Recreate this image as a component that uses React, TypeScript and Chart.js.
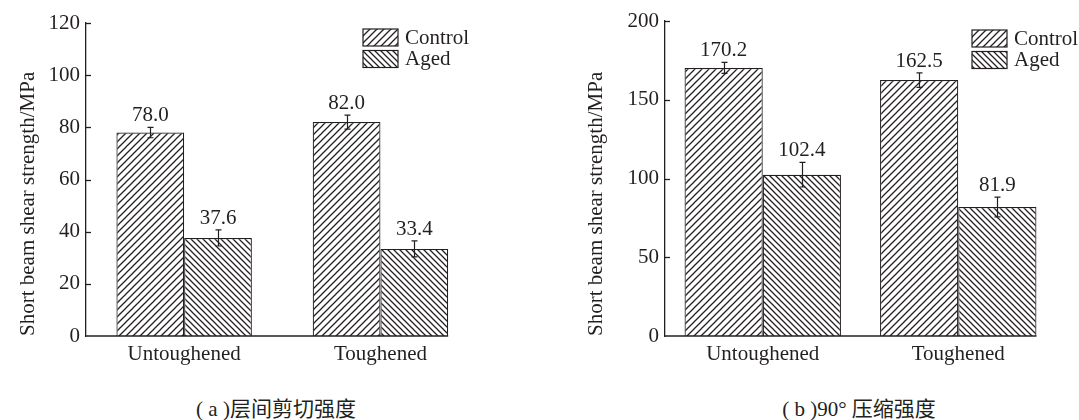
import React, { useEffect, useRef } from "react";
import { Chart, registerables } from "chart.js";

Chart.register(...registerables);

// ---------- data ----------
const categories = ["Untoughened", "Toughened"];
const seriesNames = ["Control", "Aged"];

const shearControl = [78.0, 82.0];
const shearAged = [37.6, 33.4];
const shearControlErr = [2.0, 2.7];
const shearAgedErr = [3.1, 3.1];
const shearTicks = [0, 20, 40, 60, 80, 100, 120];

const compControl = [170.2, 162.5];
const compAged = [102.4, 81.9];
const compControlErr = [3.5, 4.6];
const compAgedErr = [7.8, 6.3];
const compTicks = [0, 50, 100, 150, 200];

const yTitle = "Short beam shear strength/MPa";
const captionA = "( a )层间剪切强度";
const captionB = "( b )90° 压缩强度";

// ---------- styles ----------
const FONT = '"Liberation Serif", "Times New Roman", "Noto Sans CJK SC", serif';
const INK = "#231f20";
const FS = 21;

type PanelSpec = {
  control: number[];
  aged: number[];
  controlErr: number[];
  agedErr: number[];
  ticks: number[];
  canvasW: number;
  axisX: number;
  padTop: number;
  padRight: number;
  catPct: number;
  titlePad: number;
  legendDX: number;
  legendY: number;
};

const panelA: PanelSpec = {
  control: shearControl,
  aged: shearAged,
  controlErr: shearControlErr,
  agedErr: shearAgedErr,
  ticks: shearTicks,
  canvasW: 540,
  axisX: 86,
  padTop: 23,
  padRight: 61.4,
  catPct: 0.69,
  titlePad: 16,
  legendDX: 277,
  legendY: 29,
};

const panelB: PanelSpec = {
  control: compControl,
  aged: compAged,
  controlErr: compControlErr,
  agedErr: compAgedErr,
  ticks: compTicks,
  canvasW: 539,
  axisX: 125,
  padTop: 21,
  padRight: 23,
  catPct: 0.8,
  titlePad: 43.5,
  legendDX: 307,
  legendY: 30,
};

function hatch(dir: "/" | "\\", s: number): CanvasPattern {
  const c = document.createElement("canvas");
  c.width = s;
  c.height = s;
  const g = c.getContext("2d")!;
  g.fillStyle = "#ffffff";
  g.fillRect(0, 0, s, s);
  g.strokeStyle = INK;
  g.lineWidth = 1.25;
  g.beginPath();
  if (dir === "/") {
    g.moveTo(0, s);
    g.lineTo(s, 0);
    g.moveTo(-1, 1);
    g.lineTo(1, -1);
    g.moveTo(s - 1, s + 1);
    g.lineTo(s + 1, s - 1);
  } else {
    g.moveTo(0, 0);
    g.lineTo(s, s);
    g.moveTo(s - 1, -1);
    g.lineTo(s + 1, 1);
    g.moveTo(-1, s - 1);
    g.lineTo(1, s + 1);
  }
  g.stroke();
  return g.createPattern(c, "repeat")!;
}

function makeDecor(spec: PanelSpec) {
  const errs = [spec.controlErr, spec.agedErr];
  return {
    id: "decor",
    afterDatasetsDraw(chart: any) {
      const ctx: CanvasRenderingContext2D = chart.ctx;
      const { left, bottom } = chart.chartArea;
      const y = chart.scales.y;
      ctx.save();
      ctx.strokeStyle = INK;
      ctx.fillStyle = INK;
      // inward y ticks
      ctx.lineWidth = 1.3;
      y.ticks.forEach((t: any) => {
        if (t.value === y.min) return;
        const py = Math.round(y.getPixelForValue(t.value)) + 0.5;
        ctx.beginPath();
        ctx.moveTo(left, py);
        ctx.lineTo(left + 5, py);
        ctx.stroke();
      });
      // x axis line up to the right edge of the last bar
      let endX = left;
      chart.data.datasets.forEach((_ds: any, i: number) =>
        chart.getDatasetMeta(i).data.forEach((el: any) => {
          endX = Math.max(endX, el.x + el.width / 2);
        })
      );
      ctx.beginPath();
      ctx.moveTo(left - 0.6, bottom);
      ctx.lineTo(endX, bottom);
      ctx.stroke();
      // error bars + value labels
      ctx.font = `${FS}px ${FONT}`;
      ctx.textAlign = "center";
      ctx.textBaseline = "alphabetic";
      chart.data.datasets.forEach((ds: any, i: number) => {
        chart.getDatasetMeta(i).data.forEach((el: any, j: number) => {
          const v = ds.data[j] as number;
          const e = errs[i][j];
          const yt = y.getPixelForValue(v + e);
          const yb = y.getPixelForValue(v - e);
          const x = Math.round(el.x) + 0.5;
          ctx.lineWidth = 1.2;
          ctx.beginPath();
          ctx.moveTo(x, yt);
          ctx.lineTo(x, yb);
          ctx.moveTo(x - 3, yt);
          ctx.lineTo(x + 3, yt);
          ctx.moveTo(x - 3, yb);
          ctx.lineTo(x + 3, yb);
          ctx.stroke();
          ctx.fillText(v.toFixed(1), el.x, yt - 6);
        });
      });
      // legend
      ctx.textAlign = "left";
      ctx.textBaseline = "middle";
      chart.data.datasets.forEach((ds: any, i: number) => {
        const bx = left + spec.legendDX;
        const by = spec.legendY + i * 21.5;
        ctx.fillStyle = ds.backgroundColor;
        ctx.fillRect(bx, by, 35, 17);
        ctx.lineWidth = 1.2;
        ctx.strokeStyle = INK;
        ctx.strokeRect(bx, by, 35, 17);
        ctx.fillStyle = INK;
        ctx.fillText(ds.label, bx + 42, by + 9);
      });
      ctx.restore();
    },
  };
}

function Panel({ spec, left }: { spec: PanelSpec; left: number }) {
  const ref = useRef<HTMLCanvasElement>(null);
  useEffect(() => {
    const canvas = ref.current!;
    const font = { family: FONT, size: FS };
    const chart = new Chart(canvas, {
      type: "bar",
      data: {
        labels: categories,
        datasets: [
          {
            label: seriesNames[0],
            data: spec.control,
            backgroundColor: hatch("/", 7) as any,
            borderColor: INK,
            borderWidth: 1.2,
            barPercentage: 1,
            categoryPercentage: spec.catPct,
          },
          {
            label: seriesNames[1],
            data: spec.aged,
            backgroundColor: hatch("\\", 6) as any,
            borderColor: INK,
            borderWidth: 1.2,
            barPercentage: 1,
            categoryPercentage: spec.catPct,
          },
        ],
      },
      options: {
        responsive: false,
        animation: false,
        layout: { padding: { left: 0, right: spec.padRight, top: spec.padTop, bottom: 0 } },
        plugins: { legend: { display: false }, tooltip: { enabled: false } },
        scales: {
          x: {
            type: "category",
            offset: true,
            grid: { display: false, drawTicks: false },
            border: { display: false },
            ticks: { color: INK, font, padding: 6, maxRotation: 0, autoSkip: false },
            afterFit: (s: any) => {
              s.height = 44;
            },
          },
          y: {
            min: spec.ticks[0],
            max: spec.ticks[spec.ticks.length - 1],
            afterBuildTicks: (s: any) => {
              s.ticks = spec.ticks.map((v) => ({ value: v }));
            },
            grid: { display: false, drawTicks: false },
            border: { display: true, color: INK, width: 1.3 },
            ticks: { color: INK, font, padding: 6 },
            title: {
              display: true,
              text: yTitle,
              color: INK,
              font,
              align: "start",
              padding: { top: spec.titlePad, bottom: 0 },
            },
            afterFit: (s: any) => {
              s.width = spec.axisX;
            },
          },
        },
      } as any,
      plugins: [makeDecor(spec)],
    });
    return () => chart.destroy();
  }, []);
  return (
    <canvas
      ref={ref}
      width={spec.canvasW}
      height={380}
      style={{ position: "absolute", left, top: 0, width: spec.canvasW, height: 380 }}
    />
  );
}

export default function App() {
  const cap: React.CSSProperties = {
    position: "absolute",
    top: 397,
    textAlign: "center",
    fontFamily: FONT,
    fontSize: FS,
    lineHeight: "24px",
    color: INK,
    whiteSpace: "pre",
  };
  return (
    <div
      style={{
        position: "absolute",
        left: 0,
        top: 0,
        width: 1079,
        height: 420,
        background: "#ffffff",
        overflow: "hidden",
      }}
    >
      <Panel spec={panelA} left={0} />
      <Panel spec={panelB} left={540} />
      <div style={{ ...cap, left: 0, width: 552 }}>{captionA}</div>
      <div style={{ ...cap, left: 679, width: 360 }}>{captionB}</div>
    </div>
  );
}
